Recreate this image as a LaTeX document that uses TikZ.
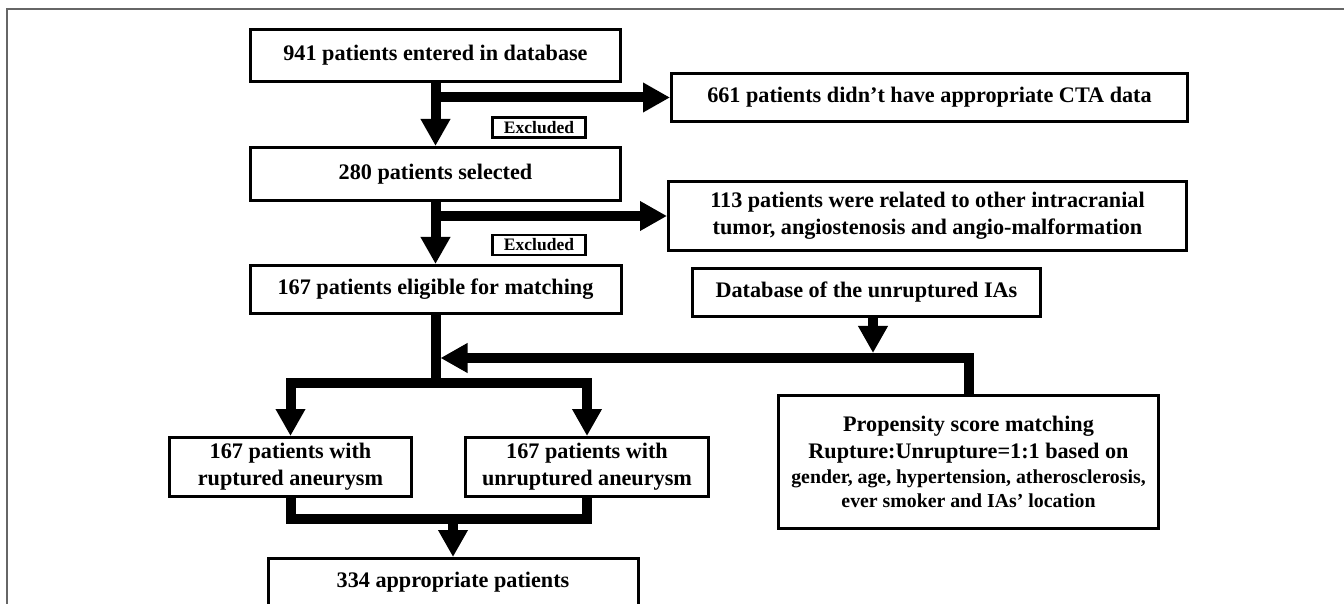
\documentclass[tikz,border=0pt]{standalone}
\usepackage{fontspec}
\setmainfont{Liberation Serif}
\usetikzlibrary{arrows.meta}
\newcommand{\psfont}{\fontsize{9.9pt}{11.9pt}\selectfont}
\tikzset{
	myflow/.style = {
		x=0.5pt, y=-0.5pt, font=\fontsize{11.1pt}{13.35pt}\selectfont\bfseries,
	},
	box/.style = {draw, line width=1.5pt, align=center, inner sep=0pt},
	exbox/.style = {draw, line width=1.2pt, inner sep=0pt, minimum width=46.5pt,
		minimum height=10pt, font=\fontsize{8.75pt}{10pt}\selectfont\bfseries},
	link/.style = {line width=5pt},
	flow/.style = {link, -{Triangle[length=13.5pt,width=14pt]}},
}

\begin{document}
\begin{tikzpicture}[myflow]
	\useasboundingbox (0,0) rectangle (1344,604);
	\clip (0,0) rectangle (1344,604);
	\draw[black!60, line width=0.7pt] (7,640) |- (1380,9);
	
	\node[box, minimum width=185pt, minimum height=26pt] (n941) at (435.5,55.5) {941 patients entered in database};
	\node[box, minimum width=258pt, minimum height=24pt] (n661) at (929.5,97.5) {661 patients didn’t have appropriate CTA data};
	\node[exbox] (ex1) at (539,127.5) {Excluded};
	\node[box, minimum width=185pt, minimum height=26.5pt] (n280) at (435.5,174) {280 patients selected};
	\node[box, minimum width=259pt, minimum height=34.5pt] (n113) at (927.5,216) {113 patients were related to other intracranial\\tumor, angiostenosis and angio-malformation};
	\node[exbox] (ex2) at (539,245) {Excluded};
	\node[box, minimum width=185.5pt, minimum height=24pt] (n167) at (435.5,289.5) {167 patients eligible for matching};
	\node[box, minimum width=174pt, minimum height=24pt] (ndb) at (866.5,292.5) {Database of the unruptured IAs};
	\node[box, minimum width=121pt, minimum height=29.5pt] (nrup) at (290.5,467) {167 patients with\\ruptured aneurysm};
	\node[box, minimum width=121.5pt, minimum height=29.5pt] (nunr) at (587,467) {167 patients with\\unruptured aneurysm};
	\node[box, minimum width=190pt, minimum height=66.5pt] (nps) at (968.5,462) {Propensity score matching\\Rupture:Unrupture=1:1 based on\\[-0.5pt]
		\psfont gender, age, hypertension, atherosclerosis,\\[-1.5pt]\psfont ever smoker and IAs’ location};
	\node[box, minimum width=185pt, minimum height=23.5pt] (n334) at (453,582) {334 appropriate patients};
	
	\coordinate (split) at (435.5,383);
	\coordinate (join) at (873,358);
	\coordinate (merge) at (453,518.5);
	
	\draw[flow] (n941.south) -- (n280.north);
	\draw[flow] (n941.south |- n661.west) -- (n661.west);
	\draw[flow] (n280.south) -- (n167.north);
	\draw[flow] (n280.south |- n113.west) -- (n113.west);
	\draw[link] (n167.south) -- (split);
	\draw[flow] (split) -| (nrup.north);
	\draw[flow] (split) -| (nunr.north);
	\draw[flow, shorten >=2.5pt] (ndb.south -| join) -- (join);
	\draw[flow, shorten >=2.5pt] (nps.north) |- (split |- join);
	\draw[link] (nrup.south) |- (merge) -| (nunr.south);
	\draw[flow] (merge) -- (n334.north);
\end{tikzpicture}
\end{document}
